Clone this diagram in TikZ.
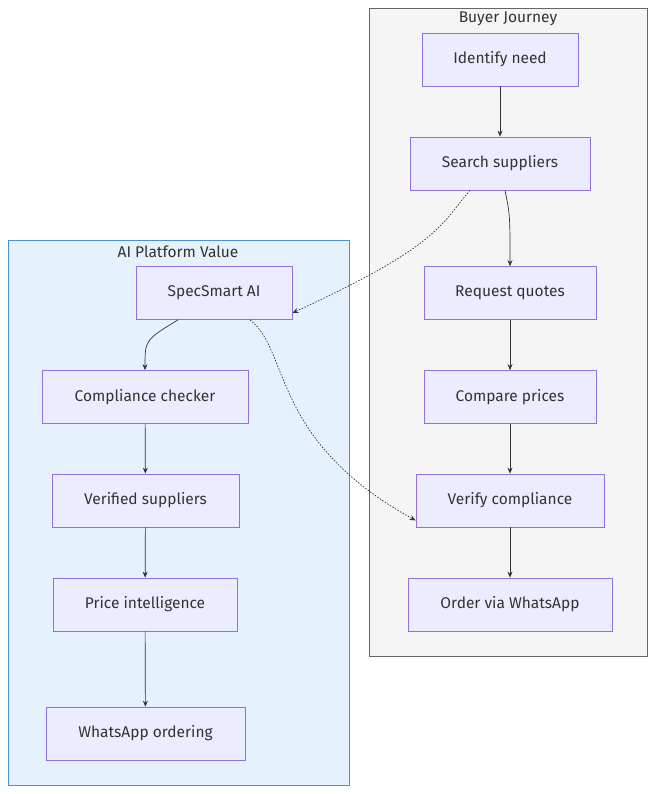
\documentclass[tikz,border=0pt]{standalone}
\usepackage{fontspec}
\setmainfont{Fira Sans}
\usetikzlibrary{arrows.meta}
\definecolor{nfill}{HTML}{ECECFF}
\definecolor{nstroke}{HTML}{9370DB}
\definecolor{txt}{HTML}{333333}
\definecolor{afill}{HTML}{E6F1FE}
\definecolor{astroke}{HTML}{4A90D9}
\begin{document}
\begin{tikzpicture}[x=1pt,y=-1pt,
  nd/.style={draw=nstroke,fill=nfill,line width=0.7pt,minimum height=53pt,inner sep=0pt,font=\fontsize{15.5}{18}\selectfont,text=txt},
  ar/.style={draw=txt,line width=0.7pt,-{Stealth[length=6pt,width=5pt]}},
  da/.style={ar,dash pattern=on 1.5pt off 1.5pt},
  ttl/.style={font=\fontsize{15.5}{18}\selectfont,text=txt}]
\useasboundingbox (0,0) rectangle (655,794);
\draw[fill=white,draw=none] (0,0) rectangle (655,794);
\draw[fill=black!4,draw=black!60,line width=0.7pt] (369,8) rectangle (647,656);
\node[ttl] (bt) at (508,19) {Buyer Journey};
\draw[fill=afill,draw=astroke,line width=0.7pt] (8,240) rectangle (349,785);
\node[ttl] (at) at (178,252) {AI Platform Value};
\node[nd,minimum width=156pt] (a) at (500,59.5) {Identify need};
\node[nd,minimum width=180pt] (b) at (500,163.5) {Search suppliers};
\node[nd,minimum width=172pt] (c) at (510,293) {Request quotes};
\node[nd,minimum width=172pt] (d) at (510,397) {Compare prices};
\node[nd,minimum width=188pt] (e) at (510,500.5) {Verify compliance};
\node[nd,minimum width=204pt] (f) at (510,604.5) {Order via WhatsApp};
\node[nd,minimum width=156pt] (s) at (214,293) {SpecSmart AI};
\node[nd,minimum width=206pt] (g) at (145,397) {Compliance checker};
\node[nd,minimum width=187pt] (h) at (145.5,500.5) {Verified suppliers};
\node[nd,minimum width=184pt] (i) at (145,604.5) {Price intelligence};
\node[nd,minimum width=199pt] (j) at (145.5,733.5) {WhatsApp ordering};
\draw[ar] (a) -- (b);
\draw[ar] ([xshift=5pt]b.south) .. controls (510,215) .. (c.north);
\draw[ar] (c) -- (d);
\draw[ar] (d) -- (e);
\draw[ar] (e) -- (f);
\draw[ar] ([xshift=-36pt]s.south) .. controls (145,340) .. (g.north);
\draw[ar] (g) -- (h);
\draw[ar] (h) -- (i);
\draw[ar] (i) -- (j);
\draw[da] ([xshift=-30pt]b.south) .. controls (440,225) and (440,245) .. ([yshift=-20pt]s.east);
\draw[da] ([xshift=36pt]s.south) .. controls (290,350) and (270,440) .. ([yshift=-20pt]e.west);
\end{tikzpicture}
\end{document}
